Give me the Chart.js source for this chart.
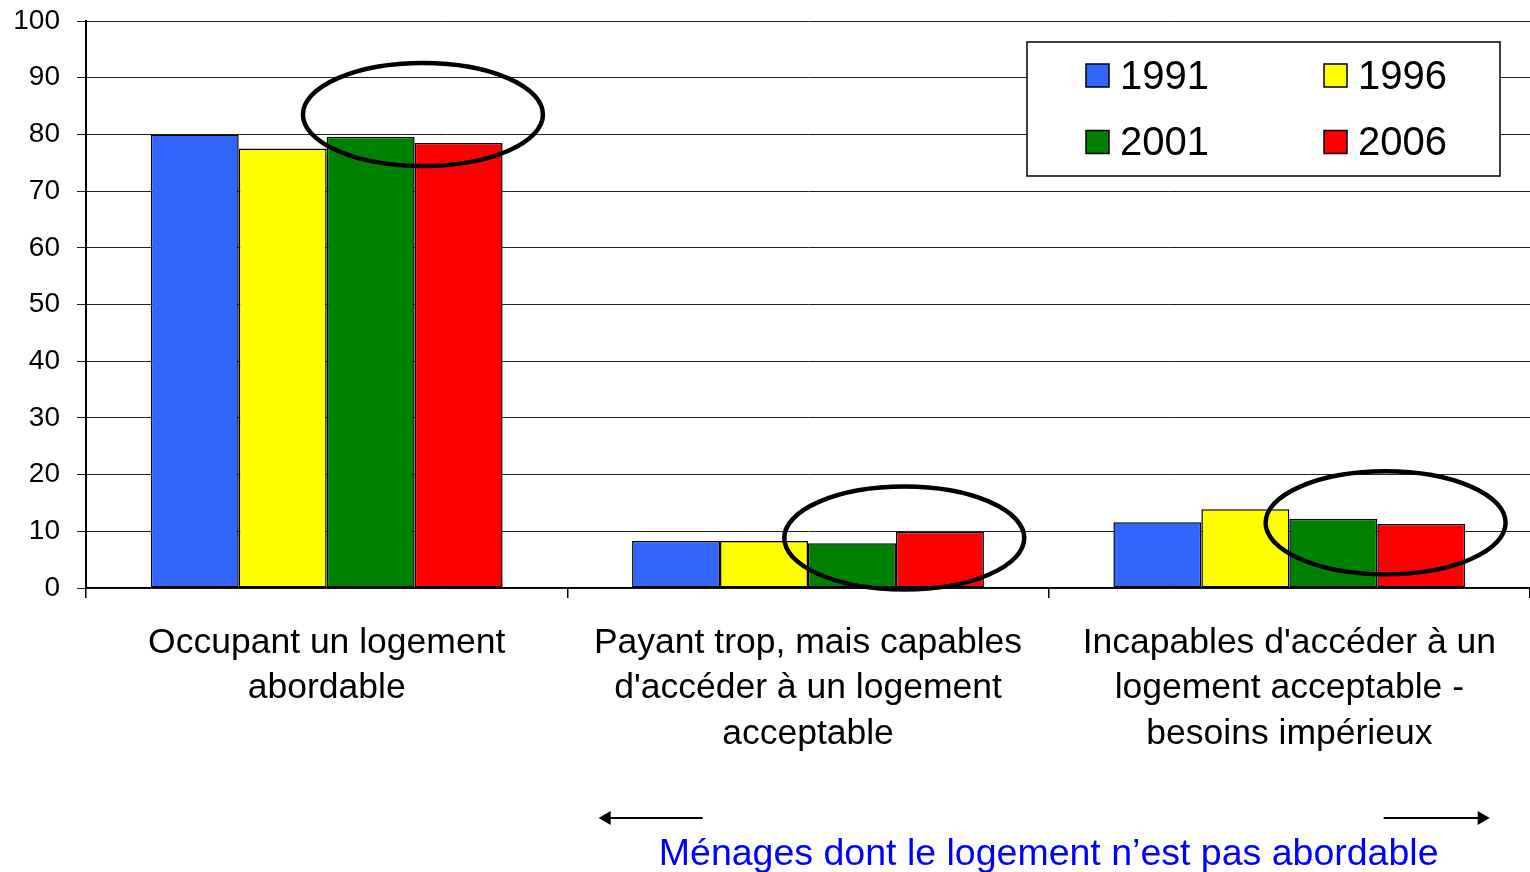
<!DOCTYPE html>
<html>
<head>
<meta charset="utf-8">
<script src="https://cdn.jsdelivr.net/npm/chart.js@4.4.1/dist/chart.umd.min.js"></script>
<style>
  html, body { margin: 0; padding: 0; background: #fff; }
  #wrap { width: 1530px; height: 872px; position: relative; }
</style>
</head>
<body>
<div id="wrap"><canvas id="c" width="1530" height="872"></canvas></div>
<script>
const categories = [
  ["Occupant un logement", "abordable"],
  ["Payant trop, mais capables", "d'accéder à un logement", "acceptable"],
  ["Incapables d'accéder à un", "logement acceptable -", "besoins impérieux"]
];
const seriesNames = ["1991", "1996", "2001", "2006"];
const values1991 = [80.0, 8.3, 11.6];
const values1996 = [77.5, 8.3, 13.9];
const values2001 = [79.6, 7.9, 12.2];
const values2006 = [78.5, 9.9, 11.3];
const seriesColors = ["#3366FF", "#FFFF00", "#008000", "#FF0000"];
const yTicks = [0, 10, 20, 30, 40, 50, 60, 70, 80, 90, 100];
const highlightValues = [83.5, 8.8, 11.5];
const footnote = "Ménages dont le logement n\u2019est pas abordable";

const FONT = "'Liberation Sans', Arial, sans-serif";
const allValues = [values1991, values1996, values2001, values2006];

const overlayPlugin = {
  id: 'overlay',
  afterDatasetsDraw(chart) {
    const ctx = chart.ctx;
    const xs = chart.scales.x, ys = chart.scales.y;
    const catW = (xs.getPixelForValue(1) - xs.getPixelForValue(0));
    ctx.save();
    ctx.strokeStyle = '#000';
    ctx.lineWidth = 4.5;
    highlightValues.forEach((v, i) => {
      const cx = xs.getPixelForValue(i) + 0.2 * catW;
      const cy = ys.getPixelForValue(v);
      ctx.beginPath();
      ctx.ellipse(cx, cy, 120, 51.5, 0, 0, Math.PI * 2);
      ctx.stroke();
    });
    ctx.restore();
  },
  afterDraw(chart) {
    const ctx = chart.ctx;
    const ca = chart.chartArea;
    const xs = chart.scales.x;
    const bx = 1027, by = ca.top + 21, bw = 473, bh = 134;
    ctx.save();
    ctx.fillStyle = '#fff';
    ctx.fillRect(bx, by, bw, bh);
    ctx.strokeStyle = '#000';
    ctx.lineWidth = 1.5;
    ctx.strokeRect(bx, by, bw, bh);
    ctx.font = '40px ' + FONT;
    ctx.textBaseline = 'middle';
    ctx.textAlign = 'left';
    const colX = [59, 297], rowY = [33.5, 100];
    seriesNames.forEach((name, i) => {
      const sx = bx + colX[i % 2], sy = by + rowY[Math.floor(i / 2)];
      ctx.fillStyle = seriesColors[i];
      ctx.fillRect(sx, sy - 11.5, 23, 23);
      ctx.strokeStyle = '#000';
      ctx.lineWidth = 1.5;
      ctx.strokeRect(sx, sy - 11.5, 23, 23);
      ctx.fillStyle = '#000';
      ctx.fillText(name, sx + 34, sy + 2);
    });
    const mid = (xs.getPixelForValue(1) + xs.getPixelForValue(2)) / 2;
    const ay = 818;
    ctx.strokeStyle = '#000';
    ctx.fillStyle = '#000';
    ctx.lineWidth = 2;
    const lx0 = mid - 450, lx1 = mid - 346;
    const rx0 = mid + 335, rx1 = mid + 441;
    ctx.beginPath(); ctx.moveTo(lx0 + 10, ay); ctx.lineTo(lx1, ay); ctx.stroke();
    ctx.beginPath(); ctx.moveTo(lx0, ay); ctx.lineTo(lx0 + 12, ay - 7); ctx.lineTo(lx0 + 12, ay + 7); ctx.closePath(); ctx.fill();
    ctx.beginPath(); ctx.moveTo(rx0, ay); ctx.lineTo(rx1 - 10, ay); ctx.stroke();
    ctx.beginPath(); ctx.moveTo(rx1, ay); ctx.lineTo(rx1 - 12, ay - 7); ctx.lineTo(rx1 - 12, ay + 7); ctx.closePath(); ctx.fill();
    ctx.fillStyle = '#0000FF';
    ctx.font = '37.5px ' + FONT;
    ctx.textAlign = 'center';
    ctx.textBaseline = 'alphabetic';
    ctx.fillText(footnote, mid, 865);
    ctx.restore();
  }
};

new Chart(document.getElementById('c'), {
  type: 'bar',
  data: {
    labels: categories,
    datasets: seriesNames.map((n, i) => ({
      label: n,
      data: allValues[i],
      backgroundColor: seriesColors[i],
      borderColor: '#000',
      borderWidth: 1.5,
      borderSkipped: false,
      barPercentage: 1.0,
      categoryPercentage: 0.731
    }))
  },
  options: {
    responsive: false,
    animation: false,
    devicePixelRatio: 1,
    layout: { autoPadding: false, padding: { top: 21, right: -5, bottom: 0, left: 0 } },
    plugins: { legend: { display: false }, tooltip: { enabled: false } },
    scales: {
      x: {
        afterFit(s) { s.height = 284; s.paddingLeft = 0; s.paddingRight = 0; },
        grid: { offset: true, drawOnChartArea: false, drawTicks: true, tickLength: 10, color: '#000', lineWidth: 1.5 },
        border: { display: true, color: '#000', width: 1.5 },
        ticks: { color: '#000', font: { family: FONT, size: 35.5, lineHeight: 1.27 }, padding: 23, maxRotation: 0, autoSkip: false }
      },
      y: {
        min: 0, max: 100,
        afterFit(s) { s.width = 86; s.paddingTop = 0; s.paddingBottom = 0; },
        afterBuildTicks(s) { s.ticks = yTicks.map(v => ({ value: v })); },
        grid: { color: '#222', lineWidth: 1, drawTicks: true, tickLength: 9 },
        border: { display: true, color: '#000', width: 2 },
        ticks: { color: '#000', font: { family: FONT, size: 28 }, padding: 17 }
      }
    }
  },
  plugins: [overlayPlugin]
});
</script>
</body>
</html>
